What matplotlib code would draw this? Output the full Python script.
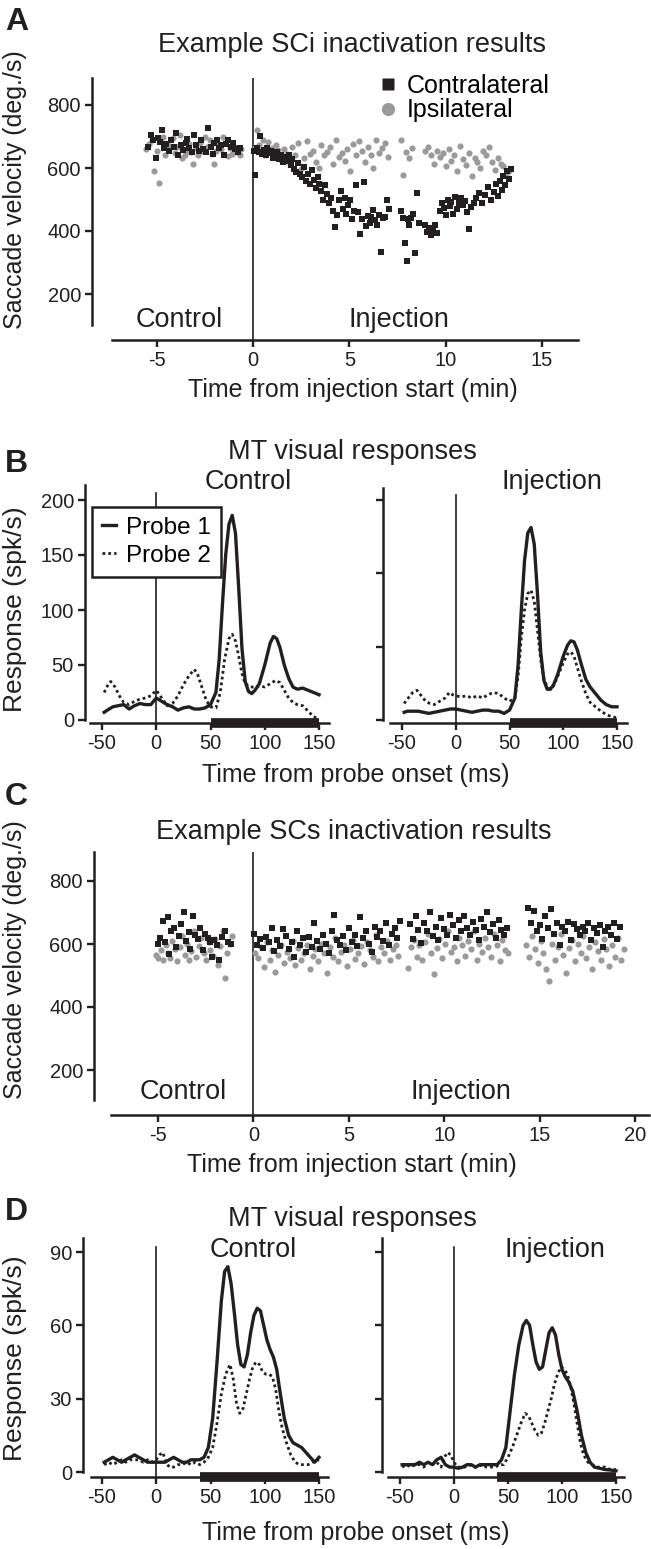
import matplotlib
matplotlib.use('Agg')
import matplotlib.pyplot as plt
from matplotlib.lines import Line2D

plt.rcParams['font.family'] = ['Liberation Sans', 'DejaVu Sans']
plt.rcParams['axes.unicode_minus'] = False

BLACK = '#231f20'
GRAY = '#9a9a9a'

# ---- Panel A: SCi inactivation, saccade velocity (deg/s) vs time (min)
a_contra_ctl_x = [-5.45, -5.3, -5.2, -5.05, -4.95, -4.85, -4.7, -4.6, -4.5, -4.35, -4.25, -4.1, -4.0, -3.9,
                  -3.75, -3.65, -3.5, -3.4, -3.3, -3.15, -3.05, -2.95, -2.8, -2.7, -2.6, -2.45, -2.35, -2.2,
                  -2.1, -2.0, -1.85, -1.75, -1.65, -1.5, -1.4, -1.3, -1.15, -1.05, -0.95, -0.8, -0.7]
a_contra_ctl_y = [668, 705, 690, 631, 695, 684, 720, 662, 676, 655, 690, 668, 712, 640,
                  672, 658, 680, 692, 663, 650, 705, 672, 655, 688, 660, 652, 727, 668,
                  645, 680, 690, 662, 672, 640, 676, 690, 668, 678, 660, 652, 665]
a_ipsi_ctl_x = [-5.55, -5.4, -5.25, -5.15, -5.0, -4.9, -4.75, -4.65, -4.55, -4.4, -4.3, -4.15, -4.05, -3.95,
                -3.8, -3.7, -3.55, -3.45, -3.3, -3.2, -3.1, -2.95, -2.85, -2.75, -2.6, -2.5, -2.4, -2.25,
                -2.15, -2.05, -1.9, -1.8, -1.65, -1.55, -1.45, -1.3, -1.2, -1.1, -0.95, -0.85, -0.7, -0.6]
a_ipsi_ctl_y = [660, 675, 690, 592, 655, 552, 685, 700, 640, 672, 662, 695, 648, 668,
                705, 632, 640, 655, 675, 650, 612, 662, 640, 680, 655, 700, 668, 690,
                645, 612, 655, 672, 660, 698, 678, 638, 662, 645, 668, 652, 640, 660]
a_contra_inj_x = [0.05, 0.12, 0.2, 0.3, 0.38, 0.45, 0.55, 0.65, 0.75, 0.85,
                  0.95, 1.05, 1.15, 1.25, 1.35, 1.45, 1.55, 1.65, 1.75, 1.85,
                  1.95, 2.05, 2.15, 2.25, 2.35, 2.45, 2.55, 2.65, 2.75, 2.85,
                  2.95, 3.05, 3.15, 3.25, 3.35, 3.45, 3.55, 3.65, 3.75, 3.85,
                  3.95, 4.05, 4.15, 4.25, 4.35, 4.45, 4.55, 4.65, 4.75, 4.85,
                  4.95, 5.05, 5.15, 5.25, 5.35, 5.45, 5.55, 5.65, 5.75, 5.85,
                  5.95, 6.05, 6.15, 6.25, 6.35, 6.45, 6.55, 6.65, 6.75, 6.85,
                  6.95, 7.05, 7.7, 7.8, 7.9, 8.0, 8.05, 8.1, 8.2, 8.3,
                  8.4, 8.5, 8.6, 8.95, 9.05, 9.15, 9.25, 9.35, 9.45, 9.55,
                  9.7, 9.8, 9.9, 10.0, 10.1, 10.2, 10.3, 10.4, 10.5, 10.6,
                  10.7, 10.8, 10.9, 11.0, 11.1, 11.2, 11.3, 11.45, 11.6, 11.75,
                  11.9, 12.05, 12.2, 12.35, 12.5, 12.6, 12.7, 12.8, 12.9, 13.0,
                  13.1, 13.2, 13.3, 13.4]
a_contra_inj_y = [655, 578, 662, 650, 702, 645, 658, 640, 662, 648,
                  655, 632, 645, 652, 628, 640, 618, 636, 622, 640,
                  608, 630, 598, 588, 615, 582, 570, 602, 558, 580,
                  548, 595, 562, 538, 572, 550, 528, 500, 545, 518,
                  488, 505, 462, 412, 450, 498, 528, 470, 505, 455,
                  482, 500, 438, 465, 545, 460, 392, 438, 556, 415,
                  448, 425, 445, 468, 435, 420, 452, 332, 440, 445,
                  500, 470, 462, 440, 362, 305, 438, 420, 442, 455,
                  330, 520, 425, 419, 398, 410, 388, 402, 418, 395,
                  465, 488, 472, 450, 500, 478, 492, 455, 508, 470,
                  490, 505, 482, 495, 460, 406, 475, 490, 505, 520,
                  488, 515, 540, 500, 525, 548, 512, 560, 530, 575,
                  545, 590, 565, 598]
a_ipsi_inj_x = [0.1, 0.2, 0.3, 0.4, 0.5, 0.6, 0.7, 0.8, 0.9, 1.0,
                1.1, 1.2, 1.3, 1.45, 1.6, 1.75, 1.9, 2.05, 2.2, 2.35,
                2.5, 2.65, 2.8, 2.95, 3.1, 3.25, 3.4, 3.55, 3.7, 3.85,
                4.0, 4.15, 4.3, 4.45, 4.6, 4.75, 4.9, 5.05, 5.2, 5.35,
                5.5, 5.65, 5.8, 5.95, 6.1, 6.25, 6.4, 6.55, 6.7, 6.85,
                7.0, 7.7, 7.8, 7.95, 8.1, 8.25, 8.95, 9.1, 9.25, 9.4,
                9.55, 9.7, 9.85, 10.0, 10.15, 10.3, 10.45, 10.6, 10.75, 10.9,
                11.05, 11.2, 11.35, 11.5, 11.65, 11.8, 11.95, 12.1, 12.25, 12.4,
                12.55, 12.7, 12.85, 13.0, 13.15, 13.3]
a_ipsi_inj_y = [665, 720, 672, 655, 690, 640, 668, 682, 650, 662,
                640, 672, 658, 625, 660, 645, 612, 668, 640, 678,
                598, 632, 685, 645, 655, 620, 600, 672, 640, 652,
                668, 612, 690, 635, 648, 622, 660, 592, 675, 640,
                685, 655, 618, 668, 640, 600, 690, 648, 662, 680,
                635, 690, 578, 650, 632, 665, 655, 668, 640, 612,
                655, 635, 648, 605, 660, 622, 640, 592, 670, 628,
                610, 648, 575, 632, 618, 600, 655, 640, 668, 620,
                595, 632, 612, 605, 580, 592]

# ---- Panel C: SCs inactivation
c_contra_ctl_x = [-5.0, -4.9, -4.75, -4.65, -4.5, -4.4, -4.3, -4.15, -4.05, -3.9, -3.8, -3.65, -3.55, -3.4,
                  -3.3, -3.15, -3.05, -2.9, -2.8, -2.65, -2.55, -2.4, -2.3, -2.15, -2.05, -1.9, -1.8, -1.65,
                  -1.5, -1.35, -1.2]
c_contra_ctl_y = [600, 620, 672, 605, 685, 568, 640, 652, 590, 625, 662, 702, 610, 638,
                  585, 690, 628, 615, 650, 580, 632, 620, 605, 560, 612, 598, 548, 622,
                  640, 605, 600]
c_ipsi_ctl_x = [-5.1, -5.0, -4.85, -4.75, -4.6, -4.5, -4.35, -4.25, -4.1, -4.0, -3.85, -3.75, -3.6, -3.5,
                -3.35, -3.25, -3.1, -3.0, -2.85, -2.75, -2.6, -2.5, -2.35, -2.25, -2.1, -2.0, -1.85, -1.75,
                -1.6, -1.5, -1.4, -1.25, -1.1]
c_ipsi_ctl_y = [565, 555, 580, 548, 598, 572, 555, 610, 585, 545, 592, 625, 565, 600,
                550, 578, 640, 560, 595, 620, 572, 548, 605, 580, 562, 615, 532, 595,
                640, 492, 570, 600, 625]
c_contra_inj_x = [0.05, 0.2, 0.35, 0.5, 0.65, 0.8, 0.95, 1.1, 1.25, 1.4, 1.55, 1.7, 1.85, 2.0, 2.15, 2.3,
                  2.45, 2.6, 2.75, 2.9, 3.05, 3.2, 3.35, 3.5, 3.65, 3.8, 3.95, 4.1, 4.25, 4.4, 4.55, 4.7,
                  4.85, 5.0, 5.15, 5.3, 5.45, 5.6, 5.75, 5.9, 6.05, 6.2, 6.35, 6.5, 6.65, 6.8, 6.95, 7.1,
                  7.25, 7.4, 7.55, 7.7,
                  8.2, 8.35, 8.5, 8.65, 8.8, 8.95, 9.1, 9.25, 9.4, 9.55, 9.7, 9.85, 10.0, 10.15, 10.3,
                  10.45, 10.6, 10.75, 10.9, 11.05, 11.2, 11.35, 11.5, 11.65, 11.8, 11.95, 12.1, 12.25,
                  12.4, 12.55, 12.7, 12.85, 13.0, 13.15, 13.3,
                  14.4, 14.55, 14.7, 14.85, 15.0, 15.15, 15.3, 15.45, 15.6, 15.75, 15.9, 16.05, 16.2,
                  16.35, 16.5, 16.65, 16.8, 16.95, 17.1, 17.25, 17.4, 17.55, 17.7, 17.85, 18.0, 18.15,
                  18.3, 18.45, 18.6, 18.75, 18.9, 19.05, 19.2]
c_contra_inj_y = [632, 598, 615, 588, 622, 605, 650, 578, 612, 595, 648, 625, 583, 605, 560, 640,
                  598, 618, 575, 622, 590, 668, 608, 585, 630, 600, 570, 640, 692, 612, 598, 625,
                  580, 650, 605, 630, 595, 685, 618, 642, 600, 575, 655, 622, 640, 610, 668, 598,
                  632, 650, 620, 672,
                  662, 615, 690, 645, 602, 668, 640, 700, 625, 655, 612, 682, 648, 630, 692,
                  660, 618, 675, 640, 690, 652, 628, 670, 645, 612, 680, 655, 700,
                  638, 662, 620, 675, 645, 628, 650,
                  715, 668, 705, 640, 660, 615, 688, 650, 712, 632, 668, 598, 655,
                  640, 670, 612, 662, 648, 630, 655, 640, 668, 612, 650, 635, 660,
                  592, 642, 655, 628, 668, 615, 655]
c_ipsi_inj_x = [0.1, 0.25, 0.4, 0.55, 0.7, 0.85, 1.0, 1.15, 1.3, 1.45, 1.6, 1.75, 1.9, 2.05, 2.2, 2.35,
                2.5, 2.65, 2.8, 2.95, 3.1, 3.25, 3.4, 3.55, 3.7, 3.85, 4.0, 4.15, 4.3, 4.45, 4.6, 4.75,
                4.9, 5.05, 5.2, 5.35, 5.5, 5.65, 5.8, 5.95, 6.1, 6.25, 6.4, 6.55, 6.7, 6.85, 7.0, 7.15,
                7.3, 7.45, 7.6,
                8.1, 8.25, 8.4, 8.55, 8.7, 8.85, 9.0, 9.15, 9.3, 9.45, 9.6, 9.75, 9.9, 10.05, 10.2,
                10.35, 10.5, 10.65, 10.8, 10.95, 11.1, 11.25, 11.4, 11.55, 11.7, 11.85, 12.0, 12.15,
                12.3, 12.45, 12.6, 12.75, 12.9, 13.05, 13.2, 13.35,
                14.3, 14.45, 14.6, 14.75, 14.9, 15.05, 15.2, 15.35, 15.5, 15.65, 15.8, 15.95, 16.1,
                16.25, 16.4, 16.55, 16.7, 16.85, 17.0, 17.15, 17.3, 17.45, 17.6, 17.75, 17.9, 18.05,
                18.2, 18.35, 18.5, 18.65, 18.8, 18.95, 19.1, 19.25, 19.4]
c_ipsi_inj_y = [572, 555, 590, 528, 605, 548, 580, 512, 565, 598, 540, 575, 555, 610, 532, 588,
                548, 570, 598, 520, 562, 585, 545, 600, 572, 508, 590, 560, 618, 545, 575, 598,
                530, 585, 612, 552, 570, 595, 538, 605, 580, 560, 628, 545, 590, 572, 610, 548,
                585, 598, 562,
                525, 590, 612, 560, 598, 548, 605, 632, 570, 505, 588, 615, 555, 600, 640,
                575, 592, 545, 620, 598, 562, 610, 585, 640, 548, 600, 575, 620,
                590, 560, 632, 598, 545, 612, 580, 570,
                598, 560, 625, 585, 540, 610, 572, 520, 482, 600, 548, 590, 632,
                565, 508, 588, 612, 545, 600, 570, 625, 555, 590, 520, 605, 578,
                548, 615, 585, 530, 598, 560, 620, 548, 585]

# ---- Panel B: MT responses (spk/s) vs time from probe onset (ms)
b_ctl_p1_t = [-48, -45, -40, -35, -30, -25, -20, -15, -10, -5, 0, 5, 10, 15, 20, 25, 30, 35, 40, 45,
              50, 55, 58, 61, 64, 67, 70, 73, 76, 79, 82, 85, 88, 91, 95, 100, 105, 108, 111, 114,
              118, 122, 126, 130, 135, 140, 145, 150]
b_ctl_p1 = [7, 9, 12, 13, 14, 10, 13, 15, 14, 14, 20, 17, 14, 12, 9, 11, 12, 10, 10, 11,
            14, 25, 55, 105, 150, 178, 186, 170, 120, 65, 35, 26, 24, 27, 33, 50, 70, 76, 74, 66,
            50, 38, 30, 28, 29, 27, 25, 23]
b_ctl_p2_t = [-48, -45, -42, -38, -34, -30, -25, -20, -15, -10, -5, 0, 5, 10, 15, 20, 25, 30, 35, 38,
              42, 46, 50, 55, 59, 63, 67, 70, 73, 76, 79, 82, 86, 90, 95, 100, 105, 110, 114, 118,
              122, 126, 130, 135, 140, 145, 150]
b_ctl_p2 = [25, 31, 35, 30, 22, 16, 14, 17, 19, 20, 22, 27, 20, 13, 15, 22, 32, 40, 46, 42,
            30, 18, 12, 11, 25, 55, 74, 78, 72, 58, 42, 33, 30, 30, 31, 30, 33, 36, 34, 27,
            20, 16, 14, 13, 8, 3, 1]
b_inj_p1_t = [-48, -45, -40, -35, -30, -25, -20, -15, -10, -5, 0, 5, 10, 15, 20, 25, 30, 35, 40, 45,
              50, 55, 58, 61, 64, 67, 70, 73, 76, 79, 82, 85, 88, 91, 95, 100, 104, 107, 110, 113,
              117, 121, 125, 130, 135, 140, 145, 150]
b_inj_p1 = [7, 8, 8, 8, 7, 6, 7, 8, 9, 10, 10, 9, 8, 7, 8, 9, 9, 8, 8, 6,
            9, 20, 50, 100, 145, 170, 175, 160, 115, 62, 36, 28, 28, 32, 42, 58, 68, 72, 71, 64,
            50, 37, 30, 24, 18, 14, 12, 12]
b_inj_p2_t = [-48, -45, -40, -36, -32, -28, -24, -20, -15, -10, -6, -3, 0, 5, 10, 15, 20, 25, 30, 35,
              40, 45, 50, 55, 58, 61, 64, 67, 70, 73, 76, 79, 82, 85, 88, 91, 95, 100, 104, 107,
              110, 113, 117, 121, 125, 130, 135, 140, 145, 150]
b_inj_p2 = [15, 19, 25, 27, 22, 17, 15, 14, 17, 20, 25, 23, 22, 21, 22, 20, 22, 20, 23, 25,
            24, 20, 17, 20, 40, 75, 100, 115, 118, 108, 82, 55, 38, 30, 28, 31, 40, 52, 60, 62,
            58, 48, 35, 24, 16, 12, 8, 5, 3, 2]

# ---- Panel D
d_ctl_p1_t = [-48, -44, -40, -36, -32, -28, -24, -20, -16, -12, -8, -4, 0, 4, 8, 12, 16, 20, 24, 28,
              32, 36, 40, 44, 48, 52, 56, 60, 63, 66, 69, 72, 75, 78, 81, 84, 87, 90, 93, 96,
              99, 102, 105, 108, 111, 114, 118, 122, 126, 130, 134, 138, 142, 146, 150]
d_ctl_p1 = [4, 5, 6, 5, 4, 5, 6, 7, 6, 5, 4, 4, 4, 4, 4, 5, 6, 5, 4, 4,
            5, 5, 5, 6, 10, 22, 45, 70, 82, 84, 77, 65, 52, 44, 43, 48, 57, 64, 67, 66,
            60, 54, 50, 47, 42, 33, 22, 15, 12, 11, 10, 8, 6, 4, 6]
d_ctl_p2_t = [-48, -44, -40, -36, -32, -28, -24, -20, -16, -12, -8, -4, 0, 3, 6, 9, 12, 16, 20, 24,
              28, 32, 36, 40, 44, 48, 52, 56, 60, 64, 68, 71, 74, 77, 80, 83, 86, 89, 92, 95,
              98, 101, 104, 107, 110, 113, 116, 120, 124, 128, 132, 136, 140, 144, 150]
d_ctl_p2 = [3, 4, 3, 4, 5, 4, 5, 5, 5, 4, 5, 4, 5, 7, 8, 4, 2, 2, 3, 3,
            4, 3, 4, 3, 4, 6, 10, 20, 32, 40, 44, 38, 28, 24, 26, 32, 38, 43, 45, 44,
            41, 40, 40, 39, 34, 25, 18, 12, 7, 4, 3, 3, 3, 4, 5]
d_inj_p1_t = [-48, -44, -40, -36, -32, -28, -24, -20, -16, -12, -8, -4, 0, 4, 8, 12, 16, 20, 24, 28,
              32, 36, 40, 44, 48, 52, 56, 60, 64, 67, 70, 73, 76, 79, 82, 85, 88, 91, 94, 97,
              100, 103, 106, 110, 114, 118, 122, 126, 130, 135, 140, 145, 150]
d_inj_p1 = [3, 3, 3, 3, 4, 3, 4, 3, 5, 6, 3, 2, 2, 1.5, 2, 3, 3, 2, 3, 3,
            3, 3, 3, 5, 10, 25, 40, 52, 60, 62, 60, 52, 45, 42, 43, 50, 57, 59, 56, 48,
            42, 39, 37, 33, 25, 15, 8, 4, 2, 1.5, 1, 0.8, 0.5]
d_inj_p2_t = [-48, -44, -40, -36, -32, -28, -24, -20, -16, -12, -9, -6, -3, 0, 3, 6, 10, 14, 18, 22,
              26, 30, 34, 38, 42, 46, 50, 54, 58, 62, 66, 69, 72, 75, 78, 81, 84, 87, 90, 93,
              96, 99, 102, 105, 108, 111, 114, 117, 120, 124, 128, 132, 136, 140, 145, 150]
d_inj_p2 = [2, 3, 2, 3, 3, 2, 4, 3, 4, 2, 6, 8, 7, 4, 2, 2, 2, 3, 2, 2,
            3, 2, 2, 2, 3, 3, 6, 10, 15, 20, 24, 23, 20, 17, 15, 16, 20, 25, 30, 36,
            40, 43, 42, 40, 35, 28, 20, 12, 7, 4, 3, 2, 2, 2, 1, 1]

probe_window_b = [50, 150]
probe_window_d = [40, 150]

W, H = 651, 1549
fig = plt.figure(figsize=(W / 100, H / 100), dpi=100)

TICK_SIZE = 14.5
LABEL_SIZE = 18
TITLE_SIZE = 19.5
EPOCH_SIZE = 19.5


def fx(px):
    return px / W


def fy(py):
    return 1 - py / H


def make_axes(l, r, t, b, xref, yref, xspine_px, yspine_px):
    """Axes whose pixel box is (l, r, t, b); xref/yref map two values to pixels."""
    ax = fig.add_axes([fx(l), fy(b), (r - l) / W, (b - t) / H])
    v1, p1, v2, p2 = xref
    kx = (v2 - v1) / (p2 - p1)
    ax.set_xlim(v1 + (l - p1) * kx, v1 + (r - p1) * kx)
    u1, q1, u2, q2 = yref
    ky = (u2 - u1) / (q2 - q1)
    ax.set_ylim(u1 + (b - q1) * ky, u1 + (t - q1) * ky)
    for s in ['top', 'right']:
        ax.spines[s].set_visible(False)
    for s in ['left', 'bottom']:
        ax.spines[s].set_linewidth(1.8)
        ax.spines[s].set_color(BLACK)
    ax.spines['bottom'].set_bounds(v1 + (xspine_px - p1) * kx, ax.get_xlim()[1])
    ax.spines['left'].set_bounds(u1 + (yspine_px - q1) * ky, ax.get_ylim()[1])
    ax.tick_params(direction='out', length=5, width=1.7, labelsize=TICK_SIZE, pad=3, colors=BLACK)
    ax.patch.set_visible(False)
    return ax


def fig_text(x, y, s, **kw):
    fig.text(fx(x), fy(y), s, ha=kw.pop('ha', 'center'), va=kw.pop('va', 'center'),
             color=BLACK, **kw)


def scatter_panel(ax, ctl, inj):
    ax.scatter(ctl[2], ctl[3], s=20, marker='o', color=GRAY, linewidths=0, zorder=2)
    ax.scatter(inj[2], inj[3], s=20, marker='o', color=GRAY, linewidths=0, zorder=2)
    ax.scatter(ctl[0], ctl[1], s=14, marker='s', color=BLACK, linewidths=0, zorder=3)
    ax.scatter(inj[0], inj[1], s=14, marker='s', color=BLACK, linewidths=0, zorder=3)
    ax.axvline(0, color=BLACK, lw=1.2, zorder=1)


def response_panel(ax, p1_t, p1, p2_t, p2, window, vtop_px, t_px, b_px):
    ax.plot(p1_t, p1, color=BLACK, lw=2.4, solid_joinstyle='round')
    ax.plot(p2_t, p2, color=BLACK, lw=2.0, ls=(0, (1, 1.1)))
    ax.axvline(0, ymax=(b_px - vtop_px) / (b_px - t_px), color=BLACK, lw=1.2)
    y0 = ax.get_ylim()[0]
    ax.plot(window, [y0, y0], color=BLACK, lw=7, solid_capstyle='butt', clip_on=False, zorder=5)
    ax.set_xticks([-50, 0, 50, 100, 150])


# ---------------- Panel A
axA = make_axes(92, 578, 78, 340, (0, 253, 15, 542), (800, 105, 200, 294), 112, 325)
scatter_panel(axA, (a_contra_ctl_x, a_contra_ctl_y, a_ipsi_ctl_x, a_ipsi_ctl_y),
              (a_contra_inj_x, a_contra_inj_y, a_ipsi_inj_x, a_ipsi_inj_y))
axA.set_yticks([200, 400, 600, 800])
axA.set_xticks([-5, 0, 5, 10, 15])
handles = [Line2D([], [], ls='', marker='s', ms=8, color=BLACK, mec='none'),
           Line2D([], [], ls='', marker='o', ms=9.5, color=GRAY, mec='none')]
axA.legend(handles, ['Contralateral', 'Ipsilateral'], loc='upper left',
           bbox_to_anchor=(fx(377), fy(74)), bbox_transform=fig.transFigure, frameon=False,
           fontsize=18, handlelength=0.9, handletextpad=0.3, labelspacing=0.02,
           borderpad=0, borderaxespad=0)
fig_text(5, 22, 'A', ha='left', fontsize=23, fontweight='bold')
fig_text(352, 45, 'Example SCi inactivation results', fontsize=TITLE_SIZE)
fig_text(179, 320, 'Control', fontsize=EPOCH_SIZE)
fig_text(399, 320, 'Injection', fontsize=EPOCH_SIZE)
fig_text(353, 390, 'Time from injection start (min)', fontsize=LABEL_SIZE)
fig_text(15, 190, 'Saccade velocity (deg./s)', fontsize=LABEL_SIZE, rotation=90)

# ---------------- Panel B
axB1 = make_axes(85, 329, 485, 723, (-50, 102, 150, 319), (200, 500, 0, 720), 90, 720)
response_panel(axB1, b_ctl_p1_t, b_ctl_p1, b_ctl_p2_t, b_ctl_p2, probe_window_b, 493, 485, 723)
axB1.set_yticks([0, 50, 100, 150, 200])
axB2 = make_axes(383, 627, 488, 723, (-50, 402, 150, 617), (200, 500, 0, 720), 390, 720)
response_panel(axB2, b_inj_p1_t, b_inj_p1, b_inj_p2_t, b_inj_p2, probe_window_b, 495, 488, 723)
axB2.set_yticks([0, 200 / 3, 400 / 3, 200])
axB2.set_yticklabels([])
leg_handles = [Line2D([], [], color=BLACK, lw=2.4), Line2D([], [], color=BLACK, lw=2.0, ls=(0, (1, 1.1)))]
legB = axB1.legend(leg_handles, ['Probe 1', 'Probe 2'], loc='upper left',
                   bbox_to_anchor=(fx(92), fy(507)), bbox_transform=fig.transFigure,
                   frameon=True, fancybox=False, edgecolor=BLACK, framealpha=1, fontsize=17.5,
                   handlelength=0.6, handletextpad=0.4, borderpad=0.4, labelspacing=0.25,
                   borderaxespad=0)
legB.get_frame().set_linewidth(1.8)
fig_text(5, 464, 'B', ha='left', fontsize=23, fontweight='bold')
fig_text(352, 452, 'MT visual responses', fontsize=TITLE_SIZE)
fig_text(248, 482, 'Control', fontsize=EPOCH_SIZE)
fig_text(552, 482, 'Injection', fontsize=EPOCH_SIZE)
fig_text(356, 775, 'Time from probe onset (ms)', fontsize=LABEL_SIZE)
fig_text(15, 609, 'Response (spk/s)', fontsize=19, rotation=90)

# ---------------- Panel C
axC = make_axes(94, 649, 852, 1115, (-5, 158, 20, 635), (800, 881, 200, 1070), 111, 1100)
scatter_panel(axC, (c_contra_ctl_x, c_contra_ctl_y, c_ipsi_ctl_x, c_ipsi_ctl_y),
              (c_contra_inj_x, c_contra_inj_y, c_ipsi_inj_x, c_ipsi_inj_y))
axC.set_yticks([200, 400, 600, 800])
axC.set_xticks([-5, 0, 5, 10, 15, 20])
fig_text(5, 797, 'C', ha='left', fontsize=23, fontweight='bold')
fig_text(354, 832, 'Example SCs inactivation results', fontsize=TITLE_SIZE)
fig_text(183, 1092, 'Control', fontsize=EPOCH_SIZE)
fig_text(461, 1092, 'Injection', fontsize=EPOCH_SIZE)
fig_text(352, 1165, 'Time from injection start (min)', fontsize=LABEL_SIZE)
fig_text(15, 960, 'Saccade velocity (deg./s)', fontsize=LABEL_SIZE, rotation=90)

# ---------------- Panel D
axD1 = make_axes(83, 328, 1238, 1477, (-50, 102, 150, 319), (90, 1252, 0, 1472), 91, 1472)
response_panel(axD1, d_ctl_p1_t, d_ctl_p1, d_ctl_p2_t, d_ctl_p2, probe_window_d, 1247, 1238, 1477)
axD1.set_yticks([0, 30, 60, 90])
axD2 = make_axes(382, 624, 1238, 1477, (-50, 400, 150, 616), (90, 1252, 0, 1472), 388, 1472)
response_panel(axD2, d_inj_p1_t, d_inj_p1, d_inj_p2_t, d_inj_p2, probe_window_d, 1247, 1238, 1477)
axD2.set_yticks([0, 30, 60, 90])
axD2.set_yticklabels([])
fig_text(5, 1212, 'D', ha='left', fontsize=23, fontweight='bold')
fig_text(352, 1219, 'MT visual responses', fontsize=TITLE_SIZE)
fig_text(253, 1250, 'Control', fontsize=EPOCH_SIZE)
fig_text(555, 1250, 'Injection', fontsize=EPOCH_SIZE)
fig_text(356, 1533, 'Time from probe onset (ms)', fontsize=LABEL_SIZE)
fig_text(15, 1358, 'Response (spk/s)', fontsize=19, rotation=90)

fig.savefig('out.png', dpi=100)
